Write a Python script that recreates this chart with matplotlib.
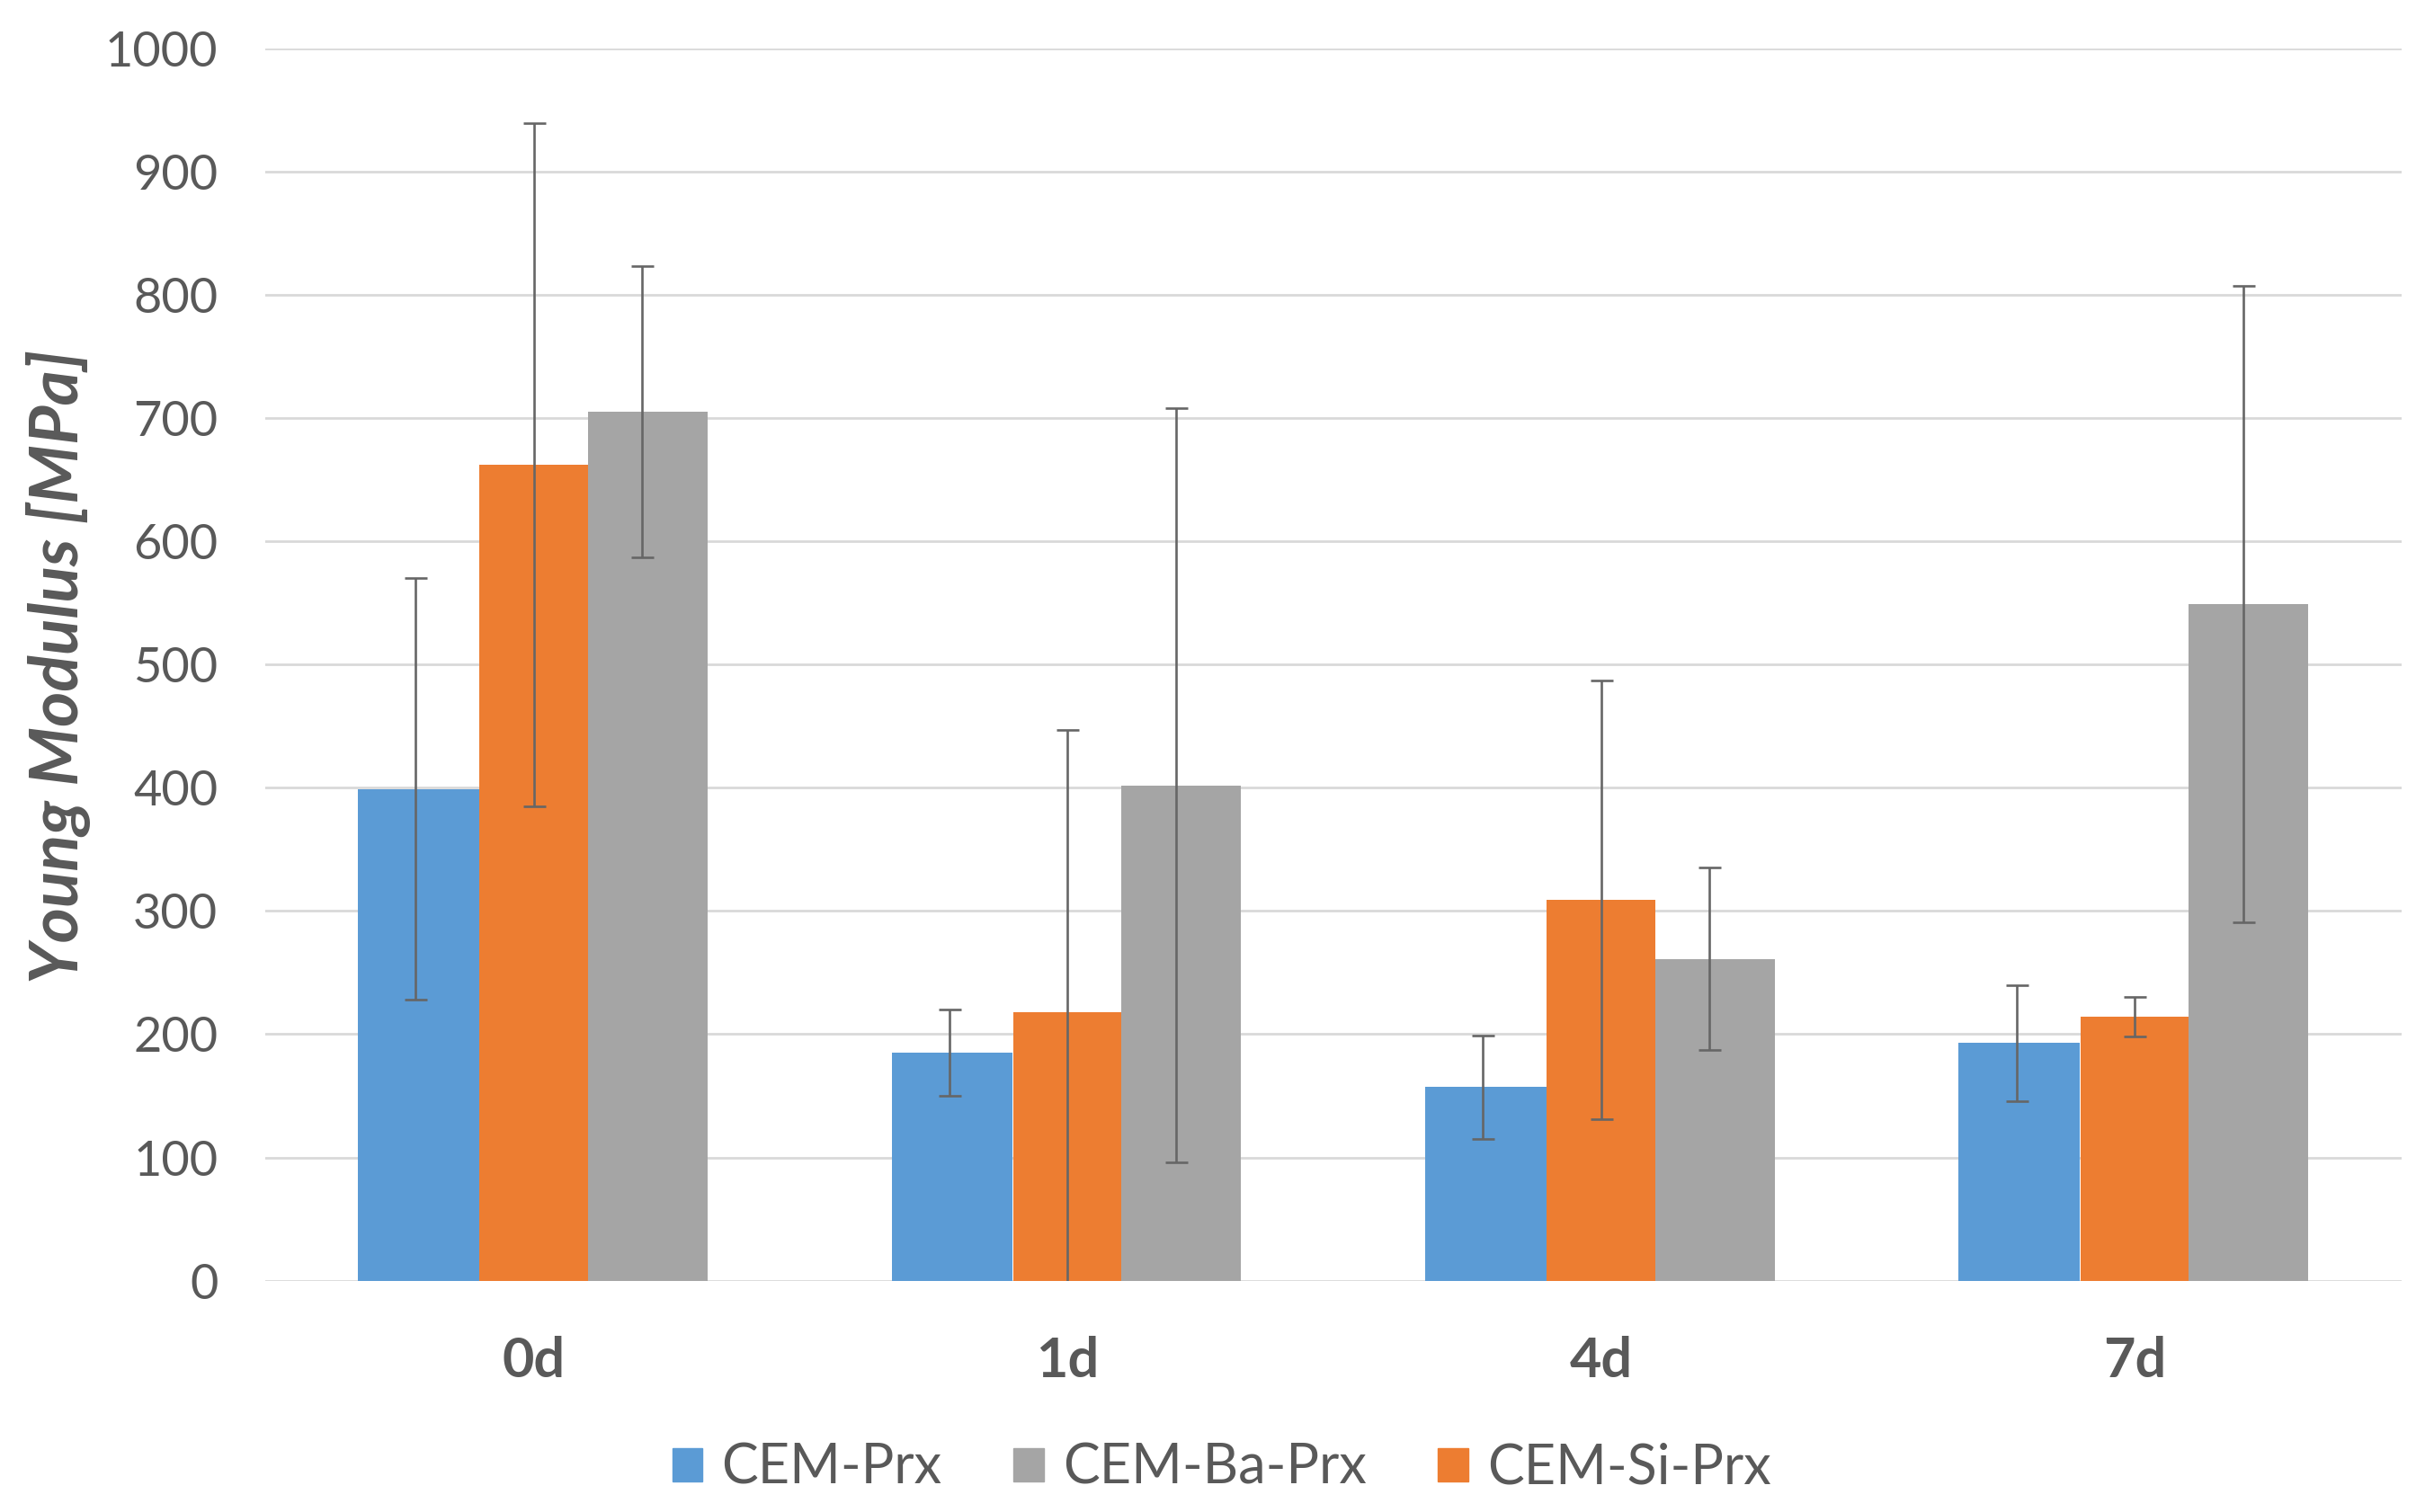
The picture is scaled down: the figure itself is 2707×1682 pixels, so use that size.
import matplotlib
matplotlib.use("Agg")
import matplotlib.pyplot as plt
import numpy as np
from matplotlib.patches import Patch

categories = ["0d", "1d", "4d", "7d"]
cem_prx = [399, 185, 157, 193]
cem_prx_err = [171, 35, 42, 47]
cem_si_prx = [662, 218, 309, 214]
cem_si_prx_err = [277, 229, 178, 16]
cem_ba_prx = [705, 402, 261, 549]
cem_ba_prx_err = [118, 306, 74, 258]
yticks = [0, 100, 200, 300, 400, 500, 600, 700, 800, 900, 1000]

c_blue = "#5B9BD5"
c_orange = "#ED7D31"
c_gray = "#A5A5A5"
txt = "#595959"
err_c = "#666666"

plt.rcParams['font.family'] = ['Lato', 'DejaVu Sans']

fig = plt.figure(figsize=(27.07, 16.82), dpi=100)
ax = fig.add_axes([0.109, 0.153, 0.8776, 0.815])

x = np.arange(len(categories))
w_b, w_o, w_g = 0.227, 0.2035, 0.224
off_b, off_g = -0.216, 0.2135

ekw = dict(ecolor=err_c, elinewidth=1.9, capsize=9, capthick=1.9)
ax.bar(x + off_b, cem_prx, width=w_b, color=c_blue, zorder=2)
ax.bar(x + off_g, cem_ba_prx, width=w_g, color=c_gray, zorder=2)
ax.bar(x, cem_si_prx, width=w_o, color=c_orange, zorder=3)
ax.errorbar(x + off_b - 0.005, cem_prx, yerr=cem_prx_err, fmt='none', zorder=5, **ekw)
ax.errorbar(x, cem_si_prx, yerr=cem_si_prx_err, fmt='none', zorder=5, **ekw)
ax.errorbar(x + off_g - 0.01, cem_ba_prx, yerr=cem_ba_prx_err, fmt='none', zorder=5, **ekw)

ax.set_xlim(-0.503, 3.5)
ax.set_ylim(0, 1000)
ax.set_yticks(yticks)
ax.set_yticklabels([str(t) for t in yticks])
ax.set_xticks(x)
ax.set_xticklabels(categories, fontweight='bold')
ax.tick_params(axis='y', length=0, pad=38, labelsize=39, labelcolor=txt)
ax.tick_params(axis='x', length=0, pad=44, labelsize=44, labelcolor=txt)
ax.yaxis.grid(True, color="#D9D9D9", linewidth=2.0, zorder=0)
ax.set_axisbelow(True)
for s in ax.spines.values():
    s.set_visible(False)

fig.text(0.024, 0.559, "Young Modulus [MPa]", rotation=90, ha='center', va='center',
         fontsize=54, fontweight='bold', fontstyle='italic', color=txt)

handles = [Patch(color=c_blue), Patch(color=c_gray), Patch(color=c_orange)]
labels = ["CEM-Prx", "CEM-Ba-Prx", "CEM-Si-Prx"]
fig.legend(handles, labels, loc='center', bbox_to_anchor=(0.502, 0.029), ncol=3,
           frameon=False, fontsize=44, labelcolor=txt, handlelength=0.55, handleheight=0.55,
           handletextpad=0.35, columnspacing=1.3)

fig.savefig("out.png", dpi=100)
